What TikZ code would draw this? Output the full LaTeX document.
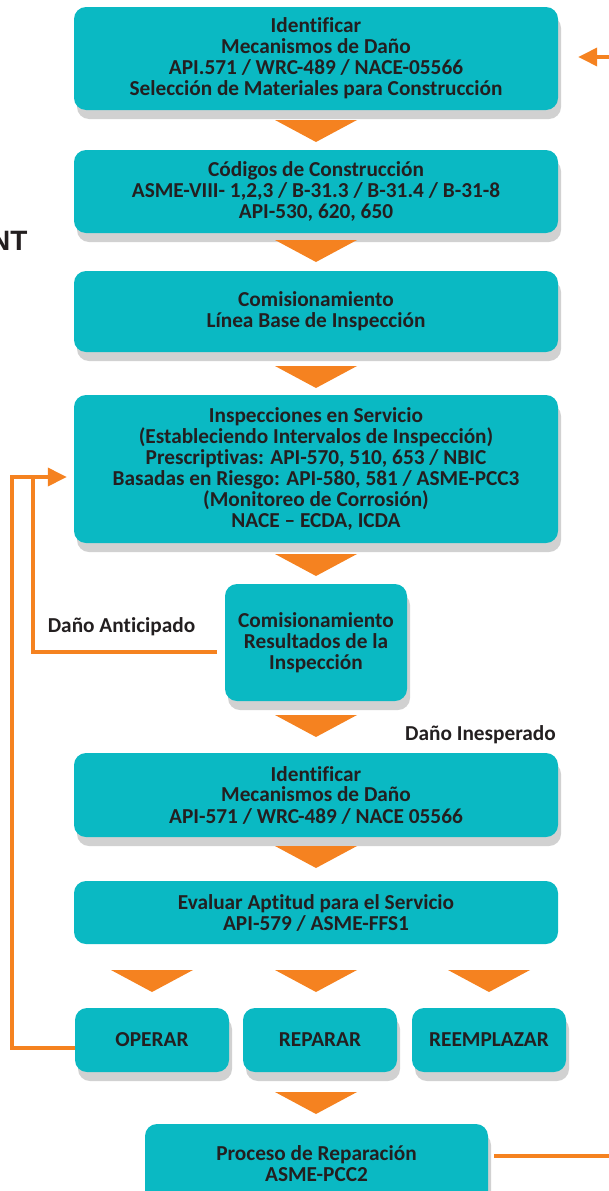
\documentclass[tikz,border=0pt]{standalone}
\usepackage{fontspec}
\setmainfont{Carlito}[Ligatures=NoCommon]
\newfontfamily\arialfont{Liberation Sans}
\usetikzlibrary{arrows.meta,shadows}
\definecolor{teal1}{HTML}{0AB9C3}
\definecolor{orange1}{HTML}{F58220}
\definecolor{ink}{HTML}{231F20}

\begin{document}
\begin{tikzpicture}[
  x=1pt, y=1pt,
  box/.style={%
    fill=teal1, rounded corners=12pt, align=center, text=ink,
    font=\fontsize{21.3}{21}\selectfont\bfseries,
    inner sep=0pt,
  },
  shadowed/.style={%
    drop shadow={shadow xshift=3pt, shadow yshift=-9pt, fill=black!45, opacity=.4},
  },
  loopline/.style={%
    draw=orange1, line width=3.6pt,
    -{Triangle[length=19pt,width=18pt]},
  },
  label/.style={text=ink, font=\fontsize{21.3}{21}\selectfont\bfseries},
]
  \useasboundingbox (0,0) rectangle (608,-1191);
  \node[anchor=base east, text=ink, font=\arialfont\fontsize{28}{30}\selectfont\bfseries] (nt) at (31,-250) {NT};
  \node[box, shadowed, minimum width=484pt, minimum height=103pt] (id) at (316,-58.5)
    {Identificar\\Mecanismos de Daño\\API.571 / WRC-489 / NACE-05566\\Selección de Materiales para Construcción};
  \node[box, shadowed, minimum width=484pt, minimum height=83pt] (cod) at (316,-191.5)
    {Códigos de Construcción\\ASME-VIII- 1,2,3 / B-31.3 / B-31.4 / B-31-8\\API-530, 620, 650};
  \node[box, shadowed, minimum width=484pt, minimum height=81pt] (com) at (316,-311.5)
    {Comisionamiento\\Línea Base de Inspección};
  \node[box, shadowed, minimum width=484pt, minimum height=148pt] (insp) at (316,-469)
    {Inspecciones en Servicio\\(Estableciendo Intervalos de Inspección)\\Prescriptivas: API-570, 510, 653 / NBIC\\Basadas en Riesgo: API-580, 581 / ASME-PCC3\\(Monitoreo de Corrosión)\\NACE -- ECDA, ICDA};
  \node[box, shadowed, minimum width=182pt, minimum height=117pt] (res) at (316,-642.5)
    {Comisionamiento\\Resultados de la\\Inspección};
  \node[box, shadowed, minimum width=484pt, minimum height=84pt] (id2) at (316,-795)
    {Identificar\\Mecanismos de Daño\\API-571 / WRC-489 / NACE 05566};
  \node[box, minimum width=484pt, minimum height=63pt] (ev) at (316,-912.5)
    {Evaluar Aptitud para el Servicio\\API-579 / ASME-FFS1};
  \node[box, shadowed, minimum width=154pt, minimum height=64pt] (op) at (152,-1040) {OPERAR};
  \node[box, shadowed, minimum width=154pt, minimum height=64pt] (rep) at (320,-1040) {REPARAR};
  \node[box, shadowed, minimum width=154pt, minimum height=64pt] (reem) at (489,-1040) {REEMPLAZAR};
  \node[box, shadowed, minimum width=343pt, minimum height=80pt] (proc) at (316.5,-1164)
    {Proceso de Reparación\\ASME-PCC2};
  \node[label] (ant) at (121.5,-627) {Daño Anticipado};
  \node[label] (ines) at (480.5,-735) {Daño Inesperado};
  % flechas entre cajas
  \foreach \x/\y in {316/120, 316/240, 316/366, 316/554, 316/715, 316/846, 152/970, 316/970, 489/970, 316/1092}
    \fill[orange1] (\x-41,-\y) -- (\x+41,-\y) -- (\x,-\y-22) -- cycle;
  % lazos de retorno
  \coordinate (j1) at (33,-477);
  \coordinate (j2) at (12,-477);
  \draw[loopline, shorten <=8pt, shorten >=7pt] ([yshift=-9.5pt]res.west) -| (j1) -- ([yshift=-8pt]insp.west);
  \draw[draw=orange1, line width=3.6pt] ([yshift=-8pt]op.west) -| (j2) -- (j1);
  \draw[loopline, shorten <=6pt, shorten >=20pt] ([yshift=8pt]proc.east) -- ++(160,0) |- ([yshift=1.5pt]id.east);
\end{tikzpicture}
\end{document}
